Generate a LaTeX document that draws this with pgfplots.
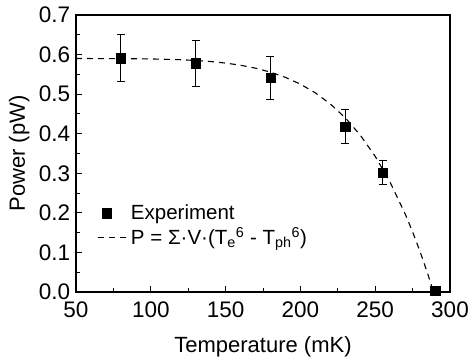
\documentclass[border=0pt]{standalone}
\usepackage{pgfplots}
\pgfplotsset{compat=1.18}
\usepackage{fontspec}
\setmainfont{Liberation Sans}
\pgfplotsset{mylegline/.style={legend image code/.code={\draw[#1] (0pt,0pt) -- (30pt,0pt);}}}
\begin{document}
\fontsize{20}{24}\selectfont
\begin{tikzpicture}
\begin{axis}[
  name=ax,
  scale only axis, width=374pt, height=277pt,
  xmin=50, xmax=300, ymin=0, ymax=0.7,
  xtick={50,100,150,200,250,300},
  ytick={0,0.1,0.2,0.3,0.4,0.5,0.6,0.7},
  minor x tick num=1, minor y tick num=1,
  tick pos=left, tick align=inside,
  major tick length=6pt, minor tick length=4pt,
  every tick/.style={line width=1pt, black},
  axis line style={line width=1.2pt},
  /pgf/number format/assume math mode=true,
  yticklabel style={/pgf/number format/fixed,/pgf/number format/fixed zerofill,/pgf/number format/precision=1, xshift=1pt},
  xticklabel style={/pgf/number format/fixed, yshift=-3pt},
  tick label style={font=\fontsize{22.5}{26}\selectfont},
  label style={font=\fontsize{22}{26}\selectfont},
  xlabel={Temperature (mK)}, ylabel={Power (pW)},
  xlabel shift=5pt, ylabel shift=-4pt,
  legend style={draw=none, fill=none, at={(0.058,0.325)}, anchor=north west,
    font=\fontsize{20.5}{24}\selectfont, row sep=1pt, inner sep=0pt},
  legend cell align=left,
]
\addplot[only marks, mark=square*, mark size=4.7pt, black,
  error bars/.cd, y dir=both, y explicit,
  error bar style={line width=1pt, black},
  error mark options={rotate=90, mark size=4pt, line width=1pt, black}]
  coordinates {
  (80,0.591) +- (0,0.060)
  (130,0.578) +- (0,0.058)
  (180,0.541) +- (0,0.054)
  (230,0.418) +- (0,0.042)
  (255,0.302) +- (0,0.030)
  (290,0.003) +- (0,0.000)
  };
\addlegendentry{Experiment}
\addplot[black, line width=1.1pt, dash pattern=on 6pt off 5pt, mylegline]
  coordinates {
  (50,0.590) (80,0.5898) (100,0.5890) (120,0.5870) (130,0.5851) (140,0.5824)
  (150,0.5785) (160,0.5730) (170,0.5656) (180,0.5556) (190,0.5424)
  (200,0.5252) (210,0.5032) (220,0.4752) (230,0.4401) (240,0.3965)
  (250,0.3428) (260,0.2771) (270,0.1976) (275,0.1520) (280,0.1020)
  (285,0.0473) (289,0.0)
  };
\addlegendentry{P = Σ·V·(T\textsubscript{e}\textsuperscript{6} - T\textsubscript{ph}\textsuperscript{6})}
\end{axis}
\pgfresetboundingbox
\path[use as bounding box] ([xshift=-76pt,yshift=-70pt]ax.south west) rectangle ([xshift=18pt,yshift=15pt]ax.north east);
\end{tikzpicture}
\end{document}
